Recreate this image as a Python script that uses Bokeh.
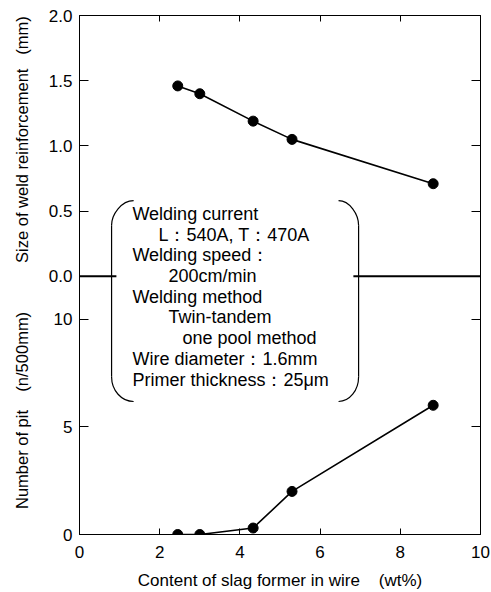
import math
from bokeh.plotting import figure
from bokeh.layouts import row
from bokeh.models import Range1d, LinearAxis, FixedTicker
from bokeh.core.properties import value
from bokeh.embed import file_html
from bokeh.resources import INLINE

# ---------------- data ----------------
slag_content = [2.45, 3.0, 4.33, 5.3, 8.82]          # wt%
reinforcement = [1.46, 1.40, 1.19, 1.05, 0.71]       # mm
pit_count = [0.0, 0.0, 0.3, 2.0, 6.0]                # n/500mm

x_ticks = [0, 2, 4, 6, 8, 10]
x_tick_labels = ["0", "2", "4", "6", "8", "10"]
reinf_ticks = [0.0, 0.5, 1.0, 1.5, 2.0]
reinf_tick_labels = ["0.0", "0.5", "1.0", "1.5", "2.0"]
pit_ticks = [0, 5, 10]
pit_tick_labels = ["0", "5", "10"]

x_title = "Content of slag former in wire\u00a0\u00a0\u00a0\u00a0(wt%)"
reinf_title = "Size of weld reinforcement\u00a0\u00a0\u00a0(mm)"
pit_title = "Number of pit\u00a0\u00a0\u00a0\u00a0(n/500mm)"

conditions = [
    "Welding current",
    "L\uff1a540A, T\uff1a470A",
    "Welding speed\uff1a",
    "200cm/min",
    "Welding method",
    "Twin-tandem",
    "one pool method",
    "Wire diameter\uff1a1.6mm",
    "Primer thickness\uff1a25\u03bcm",
]
condition_indent_px = [0, 26, 0, 36, 0, 36, 50, 0, 0]

# ---------------- layout constants ----------------
FONT = "Liberation Sans"
W, H = 491, 592
TITLE_W = 40
BORDER_TOP, BORDER_BOTTOM = 15, 58
REINF_RANGE = (-1.98, 2.0)
PIT_RANGE = (0.0, 24.1)

def pit_to_reinf(v):
    lo, hi = REINF_RANGE
    plo, phi = PIT_RANGE
    return lo + (v - plo) * (hi - lo) / (phi - plo)

reinf_range = Range1d(*REINF_RANGE)
pit_range = Range1d(*PIT_RANGE)

# ---------- narrow strip carrying the two vertical axis titles ----------
pt = figure(width=TITLE_W, height=H, x_range=Range1d(0, TITLE_W), y_range=reinf_range,
            x_axis_location=None, y_axis_location=None,
            output_backend="svg", toolbar_location=None,
            min_border_left=0, min_border_right=0,
            min_border_top=BORDER_TOP, min_border_bottom=BORDER_BOTTOM)
pt.extra_y_ranges = {"pit": pit_range}
pt.grid.visible = False
pt.outline_line_color = None
pt.background_fill_color = "white"
pt.border_fill_color = "white"
title_style = dict(angle=math.pi / 2, text_align="center", text_baseline="middle",
                   text_font=value(FONT), text_font_size="16.5px", text_color="black")
pt.text(x=[21.7], y=[1.048], text=[reinf_title], **title_style)
pt.text(x=[21.7], y=[5.76], text=[pit_title], y_range_name="pit", **title_style)

# ---------- main chart ----------
p = figure(width=W - TITLE_W, height=H,
           x_range=Range1d(0, 10), y_range=reinf_range,
           x_axis_location=None, y_axis_location=None,
           output_backend="svg", toolbar_location=None,
           min_border_left=79 - TITLE_W, min_border_right=11,
           min_border_top=BORDER_TOP, min_border_bottom=BORDER_BOTTOM)
p.extra_y_ranges = {"pit": pit_range}
p.grid.visible = False
p.outline_line_color = "black"
p.outline_line_width = 1
p.background_fill_color = "white"
p.border_fill_color = "white"

def style_axis(ax, tick_len, labels=True):
    ax.major_tick_in = tick_len
    ax.major_tick_out = 0
    ax.minor_tick_line_color = None
    ax.axis_line_color = "black"
    ax.major_tick_line_color = "black"
    ax.major_label_text_font = FONT
    ax.major_label_text_font_size = "17px" if labels else "1px"
    ax.major_label_text_color = "black" if labels else None
    ax.axis_label_text_font = FONT
    ax.axis_label_text_font_size = "17px"
    ax.axis_label_text_font_style = "normal"
    ax.axis_label_text_color = "black"
    if not labels:
        ax.major_label_standoff = 0

# bottom
xb = LinearAxis(ticker=FixedTicker(ticks=x_ticks), axis_label=x_title)
style_axis(xb, 6)
xb.major_label_overrides = {t: l for t, l in zip(x_ticks, x_tick_labels)}
xb.major_label_standoff = 11
xb.axis_label_standoff = 10
p.add_layout(xb, "below")

# top (ticks only)
xt = LinearAxis(ticker=FixedTicker(ticks=x_ticks[1:-1]))
style_axis(xt, 6, labels=False)
p.add_layout(xt, "above")

# left: reinforcement ticks (upper half) + pit ticks (lower half)
y_tick_pos = list(reinf_ticks) + [pit_to_reinf(t) for t in pit_ticks]
y_tick_lab = list(reinf_tick_labels) + list(pit_tick_labels)
yl = LinearAxis(ticker=FixedTicker(ticks=y_tick_pos))
style_axis(yl, 9)
yl.major_label_overrides = {t: l for t, l in zip(y_tick_pos, y_tick_lab)}
yl.major_label_standoff = 7
p.add_layout(yl, "left")

# right (ticks only)
yr = LinearAxis(ticker=FixedTicker(ticks=y_tick_pos))
style_axis(yr, 9, labels=False)
p.add_layout(yr, "right")

# ---- divider at 0.0 ----
p.segment(x0=[0, 6.83], y0=[0, 0], x1=[0.92, 10], y1=[0, 0],
          line_color="black", line_width=2)

# ---- bracket box ----
lx_v, lx_e = 0.80, 1.35
rx_v, rx_e = 6.96, 6.46
y_top, y_bot = 0.581, -0.960
dy = 0.19
k = 0.552
for xv, xe in ((lx_v, lx_e), (rx_v, rx_e)):
    dx = xe - xv
    p.bezier(x0=[xe, xv], y0=[y_top, y_bot + dy],
             x1=[xv, xe], y1=[y_top - dy, y_bot],
             cx0=[xe - dx * k, xv], cy0=[y_top, y_bot + dy - dy * k],
             cx1=[xv, xe - dx * k], cy1=[y_top - dy * k, y_bot],
             line_color="black", line_width=1.2)
    p.segment(x0=[xv], y0=[y_top - dy], x1=[xv], y1=[y_bot + dy],
              line_color="black", line_width=1.2)

# ---- condition text ----
text_x0 = 1.32
text_y0 = 0.478
text_step = 0.1587
px_per_x = 40.1
p.text(x=[text_x0 + d / px_per_x for d in condition_indent_px],
       y=[text_y0 - i * text_step for i in range(len(conditions))],
       text=conditions, text_align="left", text_baseline="middle",
       text_font=value(FONT), text_font_size="18px", text_color="black")

# ---- data ----
p.line(slag_content, reinforcement, line_color="black", line_width=1.6)
p.scatter(slag_content, reinforcement, marker="circle", size=10,
          fill_color="black", line_color="black")
p.line(slag_content, pit_count, y_range_name="pit", line_color="black", line_width=1.6)
p.scatter(slag_content, pit_count, y_range_name="pit", marker="circle", size=10,
          fill_color="black", line_color="black")

layout = row(pt, p)
open("out.html", "w").write(file_html(layout, INLINE))
